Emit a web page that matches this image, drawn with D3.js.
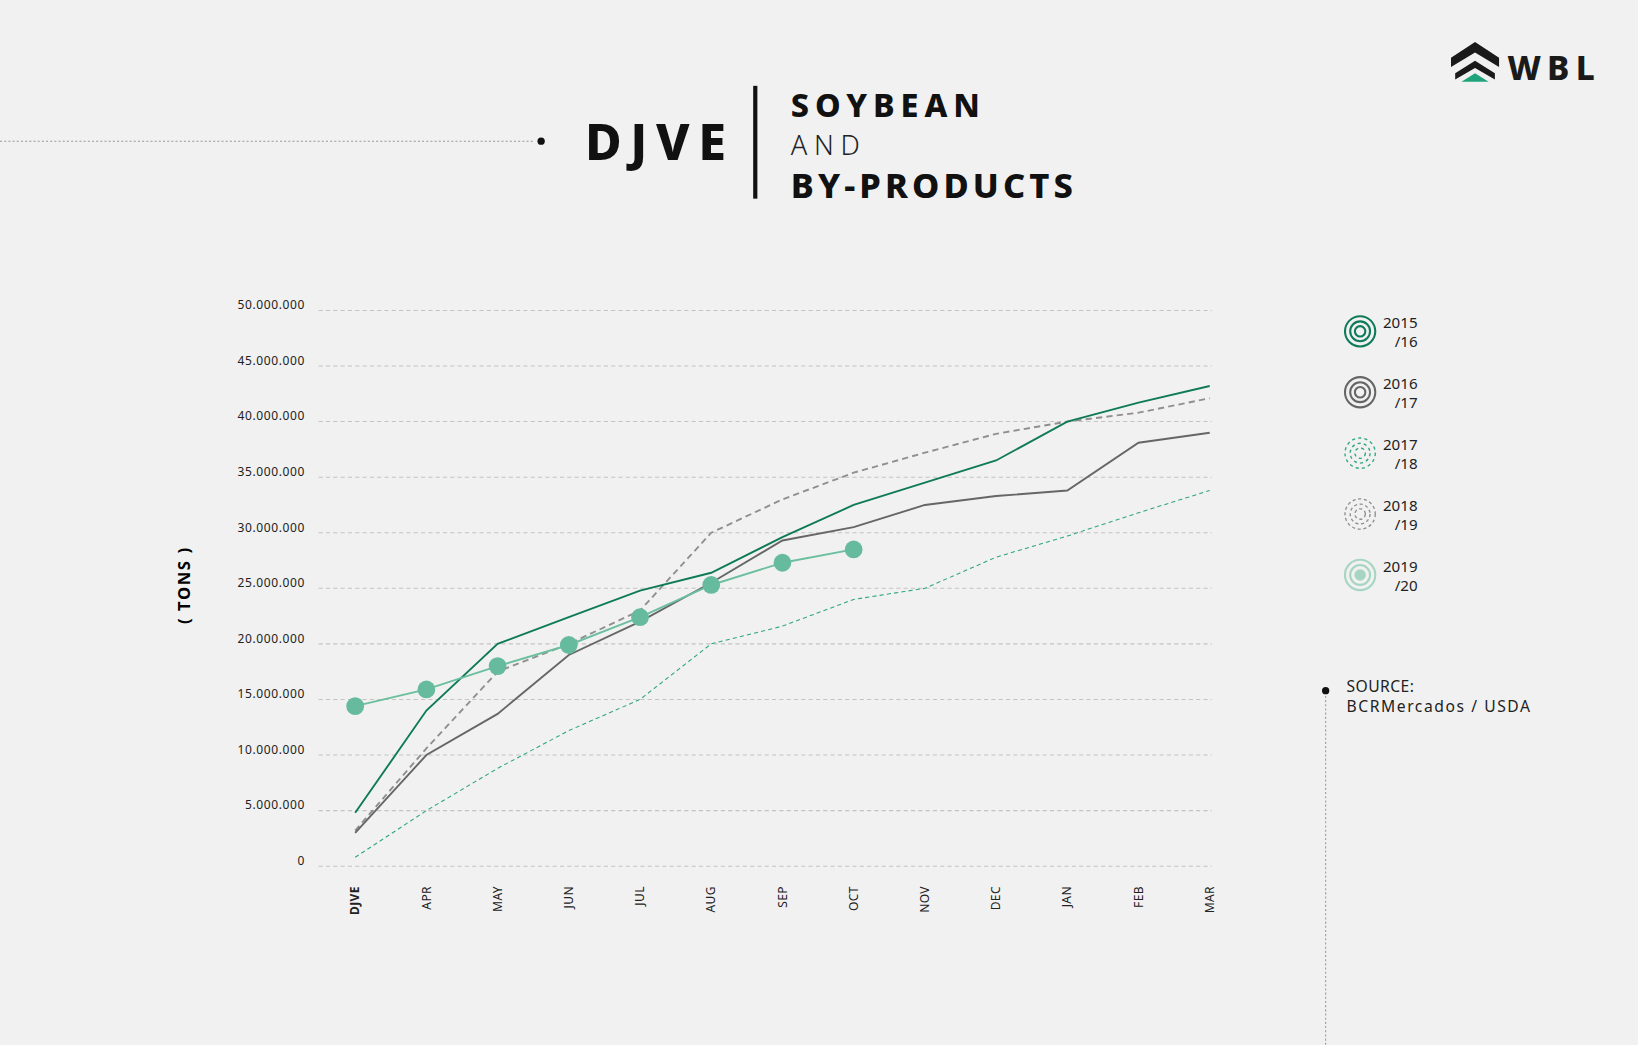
<!DOCTYPE html>
<html><head><meta charset="utf-8">
<script src="https://cdn.jsdelivr.net/npm/d3@7"></script>
<style>html,body{margin:0;background:#f1f1f1;overflow:hidden}text{font-family:"Noto Sans",sans-serif}</style>
</head><body>
<svg id="c" width="1638" height="1045" viewBox="0 0 1568 1000"></svg>
<script>
const months = ["DJVE","APR","MAY","JUN","JUL","AUG","SEP","OCT","NOV","DEC","JAN","FEB","MAR"];
const yTicks = [0,5e6,10e6,15e6,20e6,25e6,30e6,35e6,40e6,45e6,50e6];
const s2015 = [4.8,14,20,22.4,24.8,26.4,29.6,32.5,34.5,36.5,40,41.7,43.2];
const s2016 = [3.0,10,13.7,19,22,25.5,29.3,30.5,32.5,33.3,33.8,38.1,39.0];
const s2017 = [0.8,5,8.8,12.2,15,20,21.6,24,25,27.8,29.7,31.8,33.8];
const s2018 = [3.2,10.6,17.5,20,23,30,33,35.4,37.2,38.9,40,40.8,42.1];
const s2019 = [14.4,15.9,18.0,19.9,22.4,25.3,27.3,28.5];
const seasons = ["2015\n/16","2016\n/17","2017\n/18","2018\n/19","2019\n/20"];

const svg = d3.select("#c");
svg.append("rect").attr("width",1568).attr("height",1000).attr("fill","#f1f1f1");
const x = d3.scalePoint().domain(months).range([340,1158]);
const y = d3.scaleLinear().domain([0,50e6]).range([829,297]);

svg.append("g").selectAll("line").data(yTicks).join("line")
 .attr("x1",305).attr("x2",1160).attr("y1",d=>y(d)).attr("y2",d=>y(d))
 .attr("stroke","#c4c4c4").attr("stroke-dasharray","4,3").attr("stroke-width",1);
const fmt = v => v===0?"0":d3.format(",")(v).replace(/,/g,".");
svg.append("g").selectAll("text").data(yTicks).join("text")
 .attr("x",292).attr("y",d=>y(d)).attr("dy","-0.1em").attr("text-anchor","end")
 .attr("font-size",11.5).attr("letter-spacing",0.6).attr("fill","#222").text(fmt);
svg.append("g").selectAll("text").data(months).join("text")
 .attr("transform",d=>`translate(${x(d)+4},848) rotate(-90)`).attr("text-anchor","end")
 .attr("font-size",11.5).attr("letter-spacing",0.4).attr("font-weight",(d,i)=>i?400:700).attr("fill","#222").text(d=>d);
svg.append("text").attr("transform","translate(182,560) rotate(-90)").attr("text-anchor","middle")
 .attr("font-size",16).attr("font-weight",700).attr("letter-spacing",1.5).text("( TONS )");

const line = d3.line().x((d,i)=>x(months[i])).y(d=>y(d*1e6));
const series = [
 {d:s2017,c:"#2fa57e",w:1,da:"4,3"},
 {d:s2018,c:"#8f8f8f",w:1.8,da:"6,4"},
 {d:s2016,c:"#666",w:1.8,da:null},
 {d:s2015,c:"#0e7a58",w:1.8,da:null},
 {d:s2019,c:"#6bbf9f",w:1.8,da:null}];
series.forEach(s=>svg.append("path").attr("d",line(s.d)).attr("fill","none")
 .attr("stroke",s.c).attr("stroke-width",s.w).attr("stroke-dasharray",s.da));
svg.append("g").selectAll("circle").data(s2019).join("circle")
 .attr("cx",(d,i)=>x(months[i])).attr("cy",d=>y(d*1e6)).attr("r",8.5).attr("fill","#66bb9e");

const leg=[{c:"#0e7a58",da:null,fill:false},{c:"#666",da:null,fill:false},{c:"#2fa57e",da:"3,3",fill:false},{c:"#8f8f8f",da:"3,2.5",fill:false},{c:"#a6d5c3",da:null,fill:true}];
leg.forEach((l,i)=>{
 const cy=317+i*58.3, g=svg.append("g");
 [14.5,9.5,5].forEach((r,k)=>{
  if(l.fill&&k==2) g.append("circle").attr("cx",1302).attr("cy",cy).attr("r",5.5).attr("fill",l.c);
  else g.append("circle").attr("cx",1302).attr("cy",cy).attr("r",r).attr("fill","none").attr("stroke",l.c).attr("stroke-width",l.da?1.3:2).attr("stroke-dasharray",l.da);
 });
 const t=seasons[i].split("\n");
 g.append("text").attr("x",1357).attr("y",cy-3).attr("text-anchor","end").attr("font-size",14.5).attr("fill","#222").text(t[0]);
 g.append("text").attr("x",1357).attr("y",cy+15).attr("text-anchor","end").attr("font-size",14.5).attr("fill","#222").text(t[1]);
});
svg.append("line").attr("x1",1269).attr("x2",1269).attr("y1",662).attr("y2",1000).attr("stroke","#999").attr("stroke-dasharray","2,2");
svg.append("circle").attr("cx",1269).attr("cy",661).attr("r",3.5).attr("fill","#111");
svg.append("text").attr("x",1289).attr("y",662).attr("font-size",15).attr("letter-spacing",0.4).attr("fill","#222").text("SOURCE:");
svg.append("text").attr("x",1289).attr("y",681).attr("font-size",15).attr("letter-spacing",0.4).attr("textLength",176).attr("fill","#222").text("BCRMercados / USDA");

svg.append("line").attr("x1",0).attr("x2",512).attr("y1",135).attr("y2",135).attr("stroke","#999").attr("stroke-dasharray","2,2");
svg.append("circle").attr("cx",518).attr("cy",135).attr("r",3.5).attr("fill","#111");
svg.append("text").attr("x",560).attr("y",153).attr("font-size",48).attr("font-weight",800).attr("textLength",135).attr("fill","#111").text("DJVE");
svg.append("rect").attr("x",721).attr("y",82).attr("width",4).attr("height",108).attr("fill","#111");
svg.append("text").attr("x",757).attr("y",112).attr("font-size",31).attr("font-weight",800).attr("textLength",181).attr("fill","#111").text("SOYBEAN");
svg.append("text").attr("x",757).attr("y",148).attr("font-size",26).attr("font-weight",300).attr("textLength",66).attr("fill","#222").text("AND");
svg.append("text").attr("x",757).attr("y",189).attr("font-size",33).attr("font-weight",800).attr("textLength",270).attr("fill","#111").text("BY-PRODUCTS");

const lg=svg.append("g");
lg.append("path").attr("d","M1389,55 L1412,40 L1435,55 L1435,64 L1412,50 L1389,64 Z").attr("fill","#1a1a1a");
lg.append("path").attr("d","M1393,70 L1412,58 L1431,70 L1431,76 L1412,65 L1393,76 Z").attr("fill","#1a1a1a");
lg.append("path").attr("d","M1399,78 L1412,70 L1425,78 Z").attr("fill","#1fa37b");
lg.append("text").attr("x",1443).attr("y",76).attr("font-size",32).attr("font-weight",800).attr("letter-spacing",6).attr("fill","#1a1a1a").text("WBL");
</script></body></html>
